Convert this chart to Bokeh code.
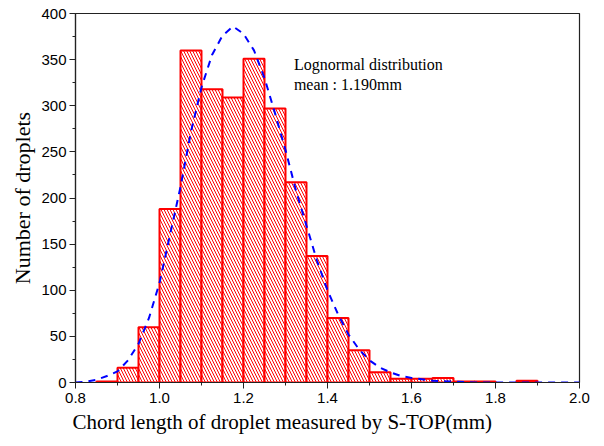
from bokeh.plotting import figure
from bokeh.models import ColumnDataSource, Range1d, FixedTicker, Title
from bokeh.core.properties import value
from bokeh.embed import file_html
from bokeh.resources import INLINE

# ---- data ----
bin_left = [0.85, 0.90, 0.95, 1.00, 1.05, 1.10, 1.15, 1.20, 1.25, 1.30, 1.35,
            1.40, 1.45, 1.50, 1.55, 1.60, 1.65, 1.70, 1.75, 1.85]
counts = [1, 16, 60, 188, 360, 318, 309, 351, 297, 217, 137,
          70, 35, 11, 4, 4, 5, 1, 1, 2]
bin_width = 0.05

curve_x = [0.80, 0.825, 0.85, 0.875, 0.90, 0.925, 0.95, 0.975, 1.00, 1.025, 1.05,
           1.075, 1.10, 1.125, 1.15, 1.175, 1.20, 1.225, 1.25, 1.275, 1.30, 1.325,
           1.35, 1.375, 1.40, 1.425, 1.45, 1.475, 1.50, 1.525, 1.55, 1.575, 1.60,
           1.65, 1.70, 1.75, 1.80, 1.90, 2.00]
curve_y = [0, 1, 3, 7, 12, 24, 42, 70, 108, 160, 212,
           272, 320, 355, 376, 386, 378, 360, 330, 292, 252, 208,
           170, 132, 100, 74, 52, 36, 24, 16, 11, 7, 5,
           2, 1, 0, 0, 0, 0]

x_ticks = [0.8, 1.0, 1.2, 1.4, 1.6, 1.8, 2.0]
y_ticks = [0, 50, 100, 150, 200, 250, 300, 350, 400]

note_x = [1.32, 1.32]
note_y = [345.0, 323.0]
note_text = ["Lognormal distribution", "mean : 1.190mm"]

x_title = "Chord length of droplet measured by S-TOP(mm)"
y_title = "Number of droplets"

# ---- figure ----
p = figure(width=600, height=440, output_backend="svg", toolbar_location=None,
           x_range=Range1d(0.8, 2.0), y_range=Range1d(0, 400),
           min_border_left=75, min_border_right=21, min_border_top=13,
           min_border_bottom=58)
p.background_fill_color = "white"
p.border_fill_color = "white"
p.outline_line_color = "#222222"
p.outline_line_width = 1.2
p.xgrid.visible = False
p.ygrid.visible = False

src = ColumnDataSource(dict(left=bin_left,
                            right=[l + bin_width for l in bin_left],
                            top=counts,
                            bottom=[0] * len(counts)))
p.quad(left="left", right="right", top="top", bottom="bottom", source=src,
       fill_color="white", line_color="#ff0000", line_width=2,
       hatch_pattern="\\", hatch_color="#ff0000", hatch_scale=6,
       hatch_weight=1)

p.line(curve_x, curve_y, line_color="#0000ff", line_width=2, line_dash="7 6")

p.text(x=note_x, y=note_y, text=note_text,
       text_font=value("Liberation Serif"), text_font_size="16px",
       text_color="black", text_baseline="alphabetic", text_align="left")

for ax in (p.xaxis[0], p.yaxis[0]):
    ax.axis_line_color = "#222222"
    ax.axis_line_width = 1.2
    ax.major_tick_line_color = "#222222"
    ax.minor_tick_line_color = "#222222"
    ax.major_tick_in = 0
    ax.major_tick_out = 6
    ax.minor_tick_in = 0
    ax.minor_tick_out = 3
    ax.major_label_text_font = "Liberation Sans"
    ax.major_label_text_font_size = "15px"
    ax.major_label_text_color = "black"

p.xaxis.ticker = FixedTicker(ticks=x_ticks,
                             minor_ticks=[0.9, 1.1, 1.3, 1.5, 1.7, 1.9])
p.yaxis.ticker = FixedTicker(ticks=y_ticks,
                             minor_ticks=[25, 75, 125, 175, 225, 275, 325, 375])
p.xaxis.major_label_overrides = {t: f"{t:.1f}" for t in x_ticks}
p.xaxis.major_label_standoff = 4
p.yaxis.major_label_standoff = 3

p.yaxis.axis_label = y_title
p.yaxis.axis_label_text_font = "Liberation Serif"
p.yaxis.axis_label_text_font_size = "22px"
p.yaxis.axis_label_text_font_style = "normal"
p.yaxis.axis_label_text_color = "black"
p.yaxis.axis_label_standoff = 3

p.add_layout(Title(text=x_title, align="left", offset=-3, standoff=4,
                   text_font="Liberation Serif", text_font_size="21px",
                   text_font_style="normal", text_color="black"), "below")

open("out.html", "w").write(file_html(p, INLINE))
